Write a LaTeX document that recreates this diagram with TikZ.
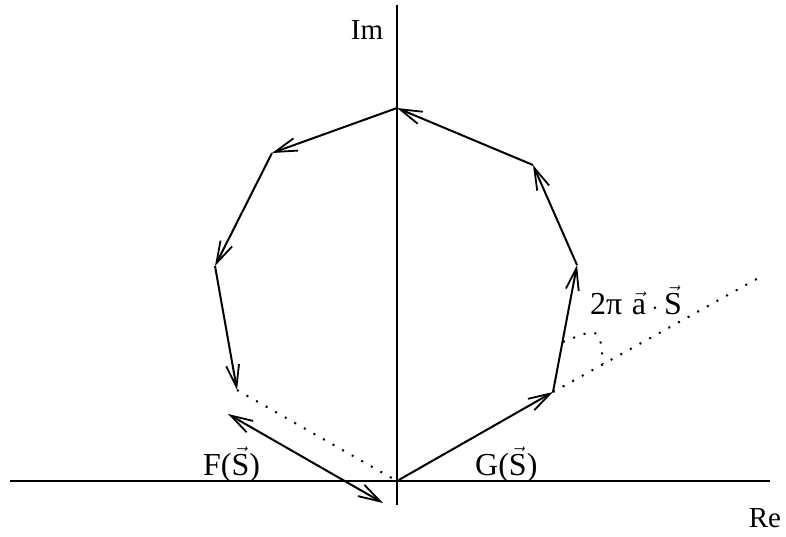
\documentclass[tikz,border=0pt]{standalone}
\usepackage{fontspec}
\setmainfont{Liberation Serif}
\usetikzlibrary{arrows.meta}
\begin{document}
\begin{tikzpicture}[x=1pt,y=-1pt,
  ax/.style={line width=2pt},
  vec/.style={line width=2pt,-{Straight Barb[length=22pt,width=13pt,line width=1.8pt]}},
  dvec/.style={line width=2pt,{Straight Barb[length=22pt,width=13pt,line width=1.8pt]}-{Straight Barb[length=22pt,width=13pt,line width=1.8pt]}},
  dots/.style={line width=2pt,dash pattern=on 2pt off 9pt},
  axl/.style={font=\fontsize{29}{33}\selectfont,inner sep=0pt},
  lbl/.style={font=\fontsize{32}{36}\selectfont,inner sep=0pt,anchor=base west}]
\useasboundingbox (0,0) rectangle (786,536);
% axes
\coordinate (xl) at (10,481);
\coordinate (xr) at (770,481);
\coordinate (yt) at (397,5);
\coordinate (yb) at (397,505);
\draw[ax] (xl) -- (xr);
\draw[ax] (yt) -- (yb);
% polygon vertices
\coordinate (P0) at (397,481);
\coordinate (P1) at (553,392);
\coordinate (P2) at (577,265);
\coordinate (P3) at (533,165);
\coordinate (P4) at (397,108);
\coordinate (P5) at (272,153);
\coordinate (P6) at (215,266);
\coordinate (P7) at (237,390);
\coordinate (E) at (762,276);
\coordinate (Fa) at (228,414);
\coordinate (Fb) at (383,503);
\draw[vec] (P0) -- (P1);
\draw[vec] (P1) -- (P2);
\draw[vec] (P2) -- (P3);
\draw[vec] (P3) -- (P4);
\draw[vec] (P4) -- (P5);
\draw[vec] (P5) -- (P6);
\draw[vec] (P6) -- (P7);
\draw[dots] (P7) -- (P0);
\draw[dots] (P1) -- (E);
\draw[dvec] (Fa) -- (Fb);
% angle mark
\coordinate (A1) at (563,342);
\coordinate (A2) at (603,364);
\coordinate (AC) at (600,327);
\draw[dots] (A1) .. controls (AC) .. (A2);
% labels
\node[axl] (im) at (367,30) {Im};
\node[axl] (re) at (765,518) {Re};
\node[lbl] (fs) at (203,475) {F($\vec{\mbox{S}}$)};
\node[lbl] (gs) at (475,475) {G($\vec{\mbox{S}}$)};
\node[lbl] (ang) at (590,314) {2π\hspace{0.3em}$\vec{\mbox{a}}\cdot\vec{\mbox{S}}$};
\end{tikzpicture}
\end{document}
